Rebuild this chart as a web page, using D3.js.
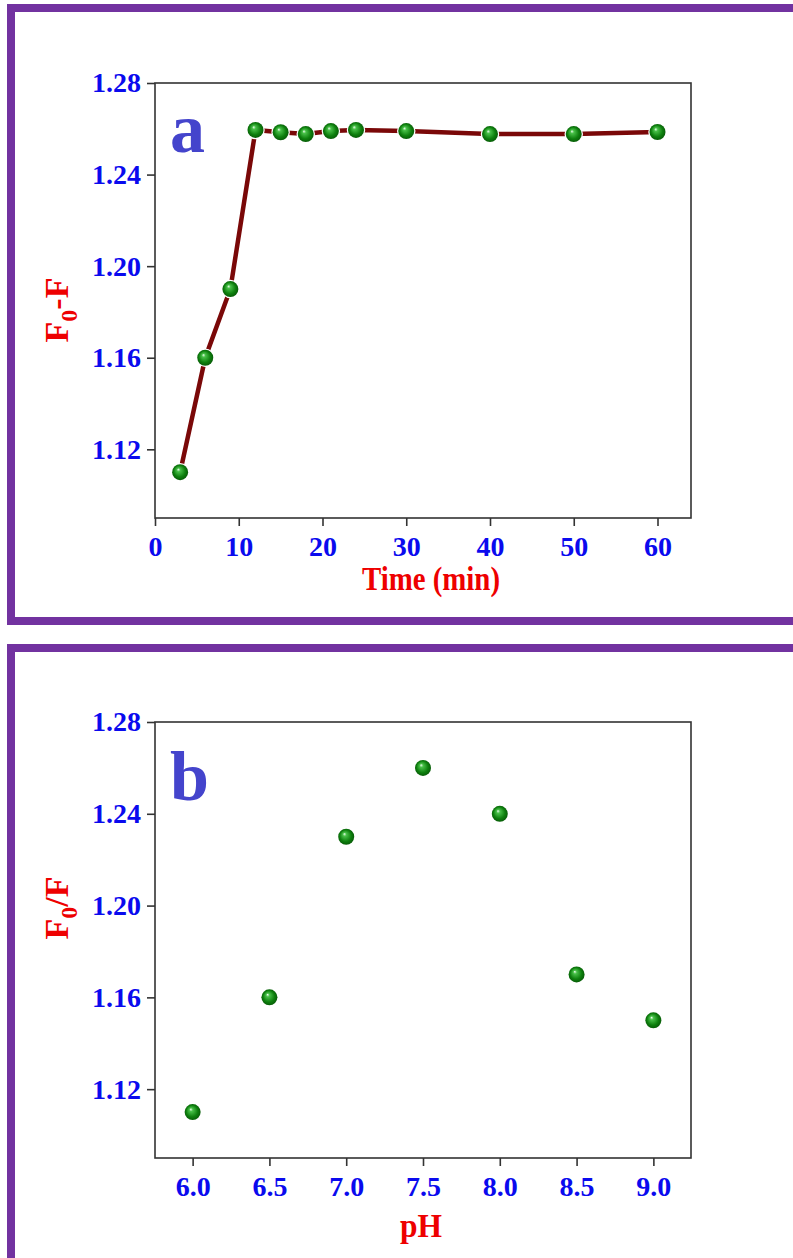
<!DOCTYPE html>
<html>
<head>
<meta charset="utf-8">
<script src="https://cdn.jsdelivr.net/npm/d3@7"></script>
<style>
  body { margin: 0; background: #fff; }
  svg { display: block; }
  text { font-family: "Liberation Serif", "Times New Roman", serif; font-weight: bold; }
</style>
</head>
<body>
<svg id="chart" width="793" height="1258"></svg>
<script>
// panel a: time study
const timeValues = [3, 6, 9, 12, 15, 18, 21, 24, 30, 40, 50, 60];
const timeResponse = [1.110, 1.160, 1.190, 1.2595, 1.2585, 1.2577, 1.259, 1.2595, 1.259, 1.2577, 1.2577, 1.2586];
const timeTicks = [0, 10, 20, 30, 40, 50, 60];

// panel b: pH study
const phValues = [6.0, 6.5, 7.0, 7.5, 8.0, 8.5, 9.0];
const phResponse = [1.110, 1.160, 1.230, 1.260, 1.240, 1.170, 1.150];
const phTicks = [6.0, 6.5, 7.0, 7.5, 8.0, 8.5, 9.0];

const yTicks = [1.12, 1.16, 1.20, 1.24, 1.28];

const svg = d3.select("#chart");

// green ball marker
const defs = svg.append("defs");
const grad = defs.append("radialGradient")
    .attr("id", "ball")
    .attr("cx", "50%").attr("cy", "50%").attr("r", "55%")
    .attr("fx", "38%").attr("fy", "32%");
grad.append("stop").attr("offset", "0%").attr("stop-color", "#f0fff0");
grad.append("stop").attr("offset", "20%").attr("stop-color", "#48c048");
grad.append("stop").attr("offset", "65%").attr("stop-color", "#0e800e");
grad.append("stop").attr("offset", "100%").attr("stop-color", "#055405");

// purple frames
svg.append("rect")
    .attr("x", 11).attr("y", 8).attr("width", 900).attr("height", 613)
    .attr("fill", "none").attr("stroke", "#7232a0").attr("stroke-width", 8);
svg.append("rect")
    .attr("x", 11).attr("y", 648).attr("width", 900).attr("height", 614)
    .attr("fill", "none").attr("stroke", "#7232a0").attr("stroke-width", 8);

function drawPanel(opts) {
    const left = 155, right = 691;
    const x = d3.scaleLinear().domain(opts.xDomain).range([left, right]);
    const y = d3.scaleLinear().domain([1.09, 1.28]).range([opts.bottom, opts.top]);
    const g = svg.append("g");

    // frame box
    g.append("rect")
        .attr("x", left).attr("y", opts.top)
        .attr("width", right - left).attr("height", opts.bottom - opts.top)
        .attr("fill", "none").attr("stroke", "#333").attr("stroke-width", 1.6);

    // y axis
    const yAxis = g.append("g")
        .attr("transform", `translate(${left},0)`)
        .call(d3.axisLeft(y).tickValues(yTicks).tickFormat(d3.format(".2f")).tickSize(8).tickPadding(6));
    yAxis.select(".domain").remove();
    yAxis.selectAll(".tick line").attr("stroke", "#333").attr("stroke-width", 1.6);
    yAxis.selectAll(".tick text")
        .attr("fill", "#0a0aee")
        .style("font-size", "28px")
        .style("font-family", "'Liberation Serif', serif")
        .style("font-weight", "bold");

    // x axis
    const xAxis = g.append("g")
        .attr("transform", `translate(0,${opts.bottom})`)
        .call(d3.axisBottom(x).tickValues(opts.xTicks).tickFormat(opts.xFormat).tickSize(8).tickPadding(10));
    xAxis.select(".domain").remove();
    xAxis.selectAll(".tick line").attr("stroke", "#333").attr("stroke-width", 1.6);
    xAxis.selectAll(".tick text")
        .attr("fill", "#0a0aee")
        .style("font-size", "28px")
        .style("font-family", "'Liberation Serif', serif")
        .style("font-weight", "bold");

    // axis titles
    g.append("text")
        .attr("x", opts.xTitleX).attr("y", opts.bottom + opts.xTitleOffset)
        .attr("text-anchor", "middle")
        .attr("fill", "#ee0000")
        .style("font-size", "33px")
        .attr("textLength", opts.xTitleLen)
        .attr("lengthAdjust", "spacingAndGlyphs")
        .text(opts.xTitle);

    const yt = g.append("text")
        .attr("transform", `translate(68,${opts.yTitleY}) rotate(-90)`)
        .attr("text-anchor", "middle")
        .attr("fill", "#ee0000")
        .style("font-size", "34px");
    yt.append("tspan").text("F");
    yt.append("tspan").attr("dy", 9).style("font-size", "24px").text("0");
    yt.append("tspan").attr("dy", -9).text(opts.yTitleRest);

    // panel letter
    g.append("text")
        .attr("x", 170).attr("y", opts.letterY)
        .attr("fill", "#4444cc")
        .style("font-size", "70px")
        .text(opts.letter);

    if (opts.line) {
        const line = d3.line().x(d => x(d[0])).y(d => y(d[1]));
        g.append("path")
            .datum(opts.xs.map((v, i) => [v, opts.ys[i]]))
            .attr("d", line)
            .attr("fill", "none")
            .attr("stroke", "#7a0808")
            .attr("stroke-width", 4.5)
            .attr("stroke-linecap", "butt");
    }

    g.selectAll(".pt")
        .data(opts.xs.map((v, i) => [v, opts.ys[i]]))
        .enter().append("circle")
        .attr("class", "pt")
        .attr("cx", d => x(d[0]))
        .attr("cy", d => y(d[1]))
        .attr("r", 8)
        .attr("fill", "url(#ball)")
        .attr("stroke", opts.line ? "#fff" : "none")
        .attr("stroke-width", 2.5)
        .attr("paint-order", "stroke");
}

drawPanel({
    xs: timeValues, ys: timeResponse, xTicks: timeTicks, xFormat: d3.format("d"),
    xDomain: [0, 64], top: 83, bottom: 518,
    xTitle: "Time (min)", xTitleX: 431, xTitleOffset: 72, xTitleLen: 138,
    yTitleRest: "-F", yTitleY: 310,
    letter: "a", letterY: 152, line: true
});

drawPanel({
    xs: phValues, ys: phResponse, xTicks: phTicks, xFormat: d3.format(".1f"),
    xDomain: [5.755, 9.245], top: 722, bottom: 1158,
    xTitle: "pH", xTitleX: 421, xTitleOffset: 79, xTitleLen: 42,
    yTitleRest: "/F", yTitleY: 908,
    letter: "b", letterY: 800, line: false
});
</script>
</body>
</html>
